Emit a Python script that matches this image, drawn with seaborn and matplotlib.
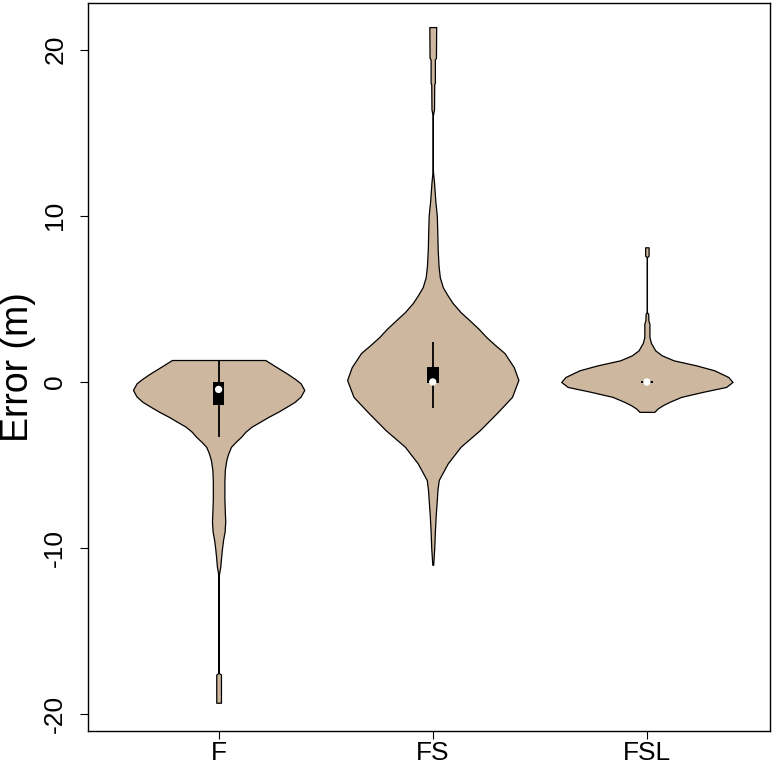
import numpy as np
import matplotlib
matplotlib.use("Agg")
import matplotlib.pyplot as plt
import seaborn as sns

# groups and their positions on the x axis
groups = ["F", "FS", "FSL"]
positions = [1, 2, 3]

# violin outlines: error value (m) and half width (max 0.4)
f_y = [1.32, 0.9, 0.52, 0.2, -0.08, -0.48, -0.88, -1.2, -1.49, -1.8, -2.09, -2.4, -2.69,
       -3.0, -3.3, -3.6, -3.9, -4.3, -4.7, -5.3, -6.0, -7.0, -7.8, -8.4, -9.0, -9.5,
       -10.0, -10.5, -11.1, -11.7, -17.5, -17.6, -19.3]
f_w = [0.218, 0.27, 0.318, 0.355, 0.383, 0.40, 0.383, 0.355, 0.318, 0.277, 0.234, 0.193, 0.154,
       0.125, 0.105, 0.08, 0.058, 0.045, 0.036, 0.029, 0.027, 0.027, 0.029, 0.031, 0.028, 0.021,
       0.016, 0.012, 0.008, 0.0, 0.0, 0.011, 0.011]

fs_y = [21.35, 19.5, 19.4, 18.0, 17.9, 16.4, 16.0, 12.8, 12.0, 10.9, 10.0, 9.1, 8.0, 7.0,
        6.3, 5.7, 5.2, 4.75, 4.2, 3.73, 3.2, 2.7, 2.2, 1.74, 0.9, 0.12, -0.9, -1.86, -2.9,
        -3.9, -4.9, -5.9, -6.5, -7.1, -8.0, -9.0, -10.0, -11.0]
fs_w = [0.016, 0.015, 0.01, 0.01, 0.007, 0.006, 0.0, 0.0, 0.006, 0.012, 0.019, 0.021, 0.023, 0.027,
        0.033, 0.047, 0.07, 0.093, 0.13, 0.17, 0.214, 0.25, 0.293, 0.335, 0.378, 0.40, 0.37, 0.30, 0.22,
        0.13, 0.07, 0.028, 0.022, 0.019, 0.014, 0.01, 0.007, 0.002]

fsl_y = [8.1, 7.6, 7.5, 4.2, 4.1, 3.7, 3.5, 2.7, 2.35, 1.9, 1.6, 1.3, 1.0, 0.7, 0.3, 0.0,
         -0.3, -0.6, -0.9, -1.2, -1.4, -1.6, -1.8]
fsl_w = [0.008, 0.008, 0.0, 0.0, 0.006, 0.007, 0.012, 0.012, 0.019, 0.039, 0.07, 0.125, 0.23,
         0.315, 0.38, 0.40, 0.37, 0.26, 0.16, 0.105, 0.074, 0.05, 0.035]

# box statistics: lower whisker, Q1, median, Q3, upper whisker
whisk_lo = [-3.3, -1.56, -0.2]
q1 = [-1.38, -0.05, -0.07]
medians = [-0.45, 0.0, 0.0]
q3 = [-0.02, 0.9, 0.07]
whisk_hi = [1.32, 2.4, 0.2]

profiles = [(f_y, f_w), (fs_y, fs_w), (fsl_y, fsl_w)]

sns.set_style("white")
plt.rcParams["font.family"] = ["Liberation Sans", "DejaVu Sans"]
plt.rcParams["axes.unicode_minus"] = False

fig = plt.figure(figsize=(7.8, 7.66), dpi=100)
ax = fig.add_axes([0.1128, 0.0457, 0.8744, 0.9504])

for pos, (ys, ws) in zip(positions, profiles):
    ys = np.array(ys)
    ws = np.array(ws)
    ax.fill_betweenx(ys, pos - ws, pos + ws, facecolor="#CDB79E",
                     edgecolor="black", linewidth=0.9, zorder=2)

# whiskers, boxes and medians
ax.vlines(positions, whisk_lo, whisk_hi, colors="black", linewidth=1.3, zorder=3)
ax.bar(positions, np.array(q3) - np.array(q1), bottom=q1, width=0.055,
       color="black", linewidth=0, zorder=4)
sns.scatterplot(x=positions, y=medians, ax=ax, color="white", s=28,
                edgecolor="none", zorder=5)

ax.set_xlim(0.39, 3.575)
ax.set_ylim(-21.0, 22.8)
ax.set_xticks(positions)
ax.set_xticklabels(groups)
ax.set_yticks([-20, -10, 0, 10, 20])
ax.set_ylabel("Error (m)", fontsize=27, color="black")
ax.yaxis.set_label_coords(-0.076, 0.5)

ax.tick_params(axis="both", direction="out", length=6, width=0.8, color="black",
               labelcolor="black", labelsize=19, bottom=True, left=True)
ax.tick_params(axis="y", labelrotation=90, pad=9)
ax.tick_params(axis="x", pad=1)
for lab in ax.get_yticklabels():
    lab.set_va("center")

for sp in ax.spines.values():
    sp.set_color("black")
    sp.set_linewidth(1.0)

fig.savefig("out.png", dpi=100)
